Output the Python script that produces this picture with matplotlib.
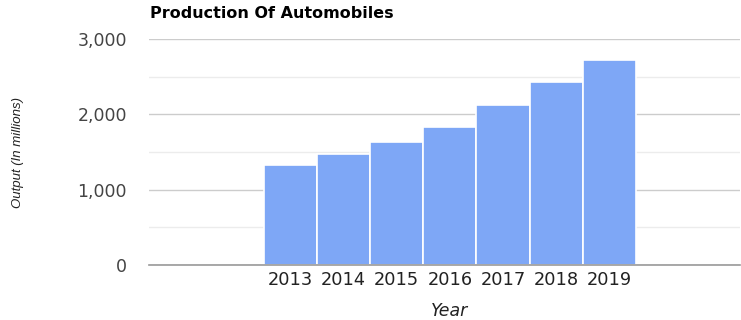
import numpy as np
import matplotlib.pyplot as plt
from matplotlib.ticker import FuncFormatter, MultipleLocator

years = [2013, 2014, 2015, 2016, 2017, 2018, 2019]
output = [1330, 1470, 1635, 1830, 2120, 2435, 2720]

BAR = "#7ea7f6"

fig = plt.figure(figsize=(7.41, 3.2), dpi=100)
ax = fig.add_axes([149 / 741, 1 - 265 / 320, 591 / 741, 226 / 320])

ax.bar(years, output, width=1.0, color=BAR, edgecolor="white", linewidth=1.2, zorder=3)

ax.set_xlim(2010.34, 2021.46)
ax.set_ylim(0, 3000)

# gridlines: majors every 1000, lighter minors in between
ax.yaxis.set_major_locator(MultipleLocator(1000))
ax.yaxis.set_minor_locator(MultipleLocator(500))
ax.grid(axis="y", which="major", color="#cccccc", linewidth=1.0, zorder=0)
ax.grid(axis="y", which="minor", color="#ececec", linewidth=1.0, zorder=0)
ax.yaxis.set_major_formatter(FuncFormatter(lambda v, p: f"{int(v):,}"))

ax.set_xticks(years)
ax.set_xticklabels([str(y) for y in years])

for s in ["top", "right", "left"]:
    ax.spines[s].set_visible(False)
ax.spines["bottom"].set_color("#999999")
ax.spines["bottom"].set_linewidth(1.2)
ax.spines["bottom"].set_zorder(4)

ax.tick_params(axis="y", which="both", length=0, pad=16, labelsize=12.5, labelcolor="#444444")
ax.tick_params(axis="x", length=0, pad=4, labelsize=12.8, labelcolor="#222222")
for lab in ax.get_xticklabels() + ax.get_yticklabels():
    lab.set_family("DejaVu Sans")

fig.text(150 / 741, 1 - 13 / 320, "Production Of Automobiles", fontsize=11.5,
         fontweight="heavy", family="DejaVu Sans", ha="left", va="center", color="#000000")
fig.text(18 / 741, 1 - 152 / 320, "Output (In millions)", rotation=90, fontsize=9.5,
         style="italic", family="Liberation Sans", ha="center", va="center", color="#222222")
fig.text(450 / 741, 1 - 311 / 320, "Year", fontsize=12.5, style="italic",
         family="DejaVu Sans", ha="center", va="center", color="#222222")

fig.savefig("out.png", dpi=100)
